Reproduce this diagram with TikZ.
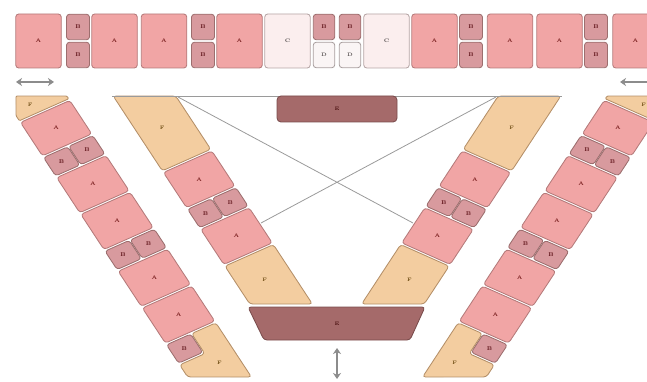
\documentclass[tikz,border=0pt]{standalone}
\usetikzlibrary{arrows.meta}
\definecolor{Afill}{HTML}{F1A5A5}
\definecolor{Aline}{HTML}{B47A7A}
\definecolor{Atext}{HTML}{7A1F1F}
\definecolor{Bfill}{HTML}{D89A9E}
\definecolor{Bline}{HTML}{9C6E6E}
\definecolor{Btext}{HTML}{5E1218}
\definecolor{Cfill}{HTML}{FBEEEE}
\definecolor{Cline}{HTML}{B5A5A5}
\definecolor{Dfill}{HTML}{FAF5F5}
\definecolor{Dline}{HTML}{A89E9E}
\definecolor{CDtext}{HTML}{555050}
\definecolor{Ffill}{HTML}{F3CDA0}
\definecolor{Fline}{HTML}{B48F68}
\definecolor{Ftext}{HTML}{6B4A10}
\definecolor{Efill}{HTML}{A56A6A}
\definecolor{Eline}{HTML}{7A4C4C}
\definecolor{Etext}{HTML}{4A1010}
\definecolor{Lgray}{HTML}{9A9A9A}
\definecolor{Agray}{HTML}{8C8C8C}
\tikzset{
  cellb/.style={line width=0.85pt, rounded corners=3pt},
  acell/.style={cellb, fill=Afill, draw=Aline},
  bcell/.style={cellb, fill=Bfill, draw=Bline},
  ccell/.style={cellb, fill=Cfill, draw=Cline},
  dcell/.style={cellb, fill=Dfill, draw=Dline},
  fcell/.style={cellb, fill=Ffill, draw=Fline},
  ecell/.style={cellb, fill=Efill, draw=Eline},
  lab/.style={font=\fontsize{5}{5}\selectfont\bfseries, inner sep=0pt},
  labA/.style={lab, text=Atext},
  labB/.style={lab, font=\fontsize{5.5}{5.5}\selectfont\bfseries, text=Btext},
  labC/.style={lab, text=CDtext},
  labE/.style={lab, text=Etext},
  labF/.style={lab, text=Ftext},
  tA/.style={minimum width=45.5pt, minimum height=54pt},
  tB/.style={minimum width=23pt, minimum height=25.5pt},
  tBn/.style={minimum width=21.5pt, minimum height=25.5pt},
  outerframe/.style={shift={(19pt,-122pt)}, x={(0.549pt,-0.836pt)}, y={(0.914pt,0.407pt)}},
  innerframe/.style={shift={(112pt,-96pt)}, x={(0.549pt,-0.836pt)}, y={(0.914pt,0.407pt)}},
  dblarrow/.style={arrows={Stealth[length=6pt,width=8pt]-Stealth[length=6pt,width=8pt]}, line width=2.2pt, draw=Agray},
  guide/.style={draw=Lgray, line width=0.8pt},
}
% a cell drawn as a quadrilateral in the current (skewed) frame
\newcommand\skcell[5]{\filldraw[#1] (#2,#3) -- (#4,#3) -- (#4,#5) -- (#2,#5) -- cycle;}
\newcommand\halfpic[1]{%
  % top row
  \node[acell,labA,tA] (#1ta1) at (38.5,41) {A};
  \node[bcell,labB,tB] (#1tb1u) at (78,27) {B};
  \node[bcell,labB,tB] (#1tb1d) at (78,55) {B};
  \node[acell,labA,tA] (#1ta2) at (114.5,41) {A};
  \node[acell,labA,tA] (#1ta3) at (164,41) {A};
  \node[bcell,labB,tB] (#1tb2u) at (203,27) {B};
  \node[bcell,labB,tB] (#1tb2d) at (203,55) {B};
  \node[acell,labA,tA] (#1ta4) at (239.5,41) {A};
  \node[ccell,labC,tA] (#1tc) at (287.5,41) {C};
  \node[bcell,labB,tBn] (#1tb3u) at (324,27) {B};
  \node[dcell,labC,tBn] (#1td) at (324,55) {D};
  % side arrow
  \coordinate (#1la) at (16,82);
  \coordinate (#1lb) at (54,82);
  \draw[dblarrow] (#1la) -- (#1lb);
  % outer strand
  \begin{scope}[outerframe]
    \filldraw[fcell,rounded corners=1pt] (-1,1) -- (-1,55) -- (-4.3,55) -- (-25.3,11.9) -- (-7.1,1) -- cycle;
    \node[labF] (#1oF1) at (-11,19) {F};
    \foreach \a/\b/\n in {1/41/1, 67/109/2, 111/153/3, 179/221/4, 223/265/5}{
      \skcell{acell}{\a}{1}{\b}{55}
      \node[labA] (#1oA\n) at ({(\a+\b)/2},28) {A};
    }
    \foreach \a/\b/\n in {43/65/1, 155/177/2}{
      \skcell{bcell}{\a}{1}{\b}{27.5}
      \skcell{bcell}{\a}{28.5}{\b}{55}
      \node[labB] (#1oBa\n) at ({(\a+\b)/2},14) {B};
      \node[labB] (#1oBb\n) at ({(\a+\b)/2},42) {B};
    }
    \skcell{bcell}{267}{1}{289}{27.5}
    \node[labB] (#1oB5) at (278,14) {B};
    \filldraw[fcell] (267,28.5) -- (267,55) -- (331.8,55) -- (305.5,1) -- (291,1) -- (291,28.5) -- cycle;
    \node[labF] (#1oF2) at (305,36) {F};
  \end{scope}
  % inner strand
  \begin{scope}[innerframe]
    \filldraw[fcell] (0.5,1) -- (26.3,54) -- (90,54) -- (90,1) -- cycle;
    \node[labF] (#1iF1) at (50,25) {F};
    \skcell{acell}{92}{1}{134}{54}
    \node[labA] (#1iA1) at (113,27.5) {A};
    \skcell{bcell}{136}{1}{158}{27}
    \skcell{bcell}{136}{28}{158}{54}
    \node[labB] (#1iB1) at (147,14) {B};
    \node[labB] (#1iB2) at (147,41) {B};
    \skcell{acell}{160}{1}{202}{54}
    \node[labA] (#1iA2) at (181,27.5) {A};
    \filldraw[fcell] (204,1) -- (204,54) -- (275.1,54) -- (249.3,1) -- cycle;
    \node[labF] (#1iF2) at (233,27) {F};
  \end{scope}
}
\begin{document}
\begin{tikzpicture}[x=1pt,y=-1pt]
  \useasboundingbox (0,0) rectangle (647,382);
  \clip (0,0) rectangle (647,382);
  % guide lines
  \coordinate (hl) at (112,96);
  \coordinate (hr) at (562,96);
  \coordinate (xa1) at (178,97);
  \coordinate (xa2) at (413,223);
  \coordinate (xb1) at (496,97);
  \coordinate (xb2) at (261,223);
  \draw[guide] (xa1) -- (xa2);
  \draw[guide] (xb1) -- (xb2);
  \halfpic{l}
  \begin{scope}[xshift=674pt, xscale=-1]
    \halfpic{r}
  \end{scope}
  \draw[guide] (hl) -- (hr);
  % E cells
  \node[ecell,labE,minimum width=120pt,minimum height=26pt,rounded corners=4pt] (Etop) at (337,109) {E};
  \filldraw[ecell] (248,307) -- (425,307) -- (410,340) -- (264,340) -- cycle;
  \node[labE] (Ebot) at (337,324) {E};
  % bottom arrow
  \coordinate (ba) at (337,348);
  \coordinate (bb) at (337,379);
  \draw[dblarrow] (ba) -- (bb);
\end{tikzpicture}
\end{document}
